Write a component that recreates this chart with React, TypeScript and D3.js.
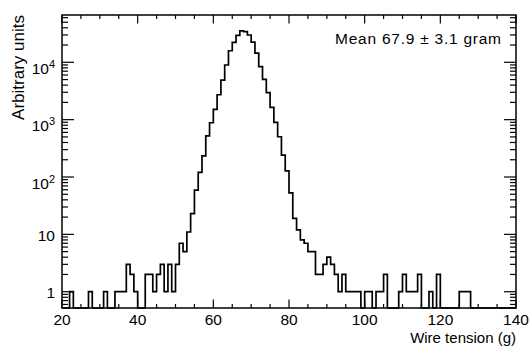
import React from 'react';
import * as d3 from 'd3';

const binStart = 20;
const binWidth = 1;
// counts per 1 g bin, from 20 g to 140 g
const counts = [
  0, 0, 1, 0, 0, 0, 0, 1, 0, 0,
  0, 1, 0, 0, 1, 1, 1, 3, 2, 1,
  0, 0, 2, 2, 1, 2, 3, 1, 3, 1,
  3, 7, 5, 11, 23, 59, 120, 234, 522, 883,
  1510, 2720, 4900, 8970, 15900, 22300, 29400, 35400, 34200, 29900,
  22500, 14400, 8380, 5050, 2950, 1640, 897, 503, 241, 128,
  53, 19, 12, 8, 7, 5, 5, 2, 2, 3,
  4, 3, 2, 1, 2, 1, 1, 1, 1, 0,
  1, 1, 0, 1, 1, 2, 0, 0, 0, 1,
  2, 1, 1, 1, 2, 0, 0, 1, 0, 2,
  0, 0, 0, 0, 0, 1, 1, 1, 0, 0,
  0, 0, 0, 0, 0, 0, 0, 0, 0, 0,
];
const xMajorTicks = [20, 40, 60, 80, 100, 120, 140];
const yMajorTicks = [1, 10, 100, 1000, 10000];
const yTickLabels = [
  { base: '1', exp: '' },
  { base: '10', exp: '' },
  { base: '10', exp: '2' },
  { base: '10', exp: '3' },
  { base: '10', exp: '4' },
];
const xTitle = 'Wire tension (g)';
const yTitle = 'Arbitrary units';
const meanText = 'Mean 67.9 ± 3.1 gram';

export default function App() {
  const W = 531, H = 347;
  const L = 62, R = 516, T = 15, B = 308;
  const x = d3.scaleLinear().domain([20, 140]).range([L, R]);
  const y = d3.scaleLog().domain([0.52, 66800]).range([B, T]);
  const font = "'Liberation Sans', Arial, Helvetica, sans-serif";

  const pts: [number, number][] = [[x(binStart), B]];
  counts.forEach((c, i) => {
    const yy = c > 0 ? y(c) : B;
    pts.push([x(binStart + i * binWidth), yy]);
    pts.push([x(binStart + (i + 1) * binWidth), yy]);
  });
  pts.push([x(binStart + counts.length * binWidth), B]);
  const path = d3.line()(pts) || '';

  const xMinor = d3.range(20, 141, 5).filter(v => !xMajorTicks.includes(v));
  const yMinor: number[] = [];
  for (let d = -1; d <= 4; d++) {
    for (let m = 2; m <= 9; m++) {
      const v = m * Math.pow(10, d);
      if (v >= 0.52 && v <= 66800) yMinor.push(v);
    }
  }

  return (
    <div style={{ position: 'fixed', left: 0, top: 0 }}>
      <svg width={W} height={H} style={{ display: 'block', background: '#fff' }}>
        <rect x={0} y={0} width={W} height={H} fill="#fff" />
        <g stroke="#000" strokeWidth={1.2}>
          {xMajorTicks.map(v => (
            <g key={'xm' + v}>
              <line x1={x(v)} x2={x(v)} y1={B} y2={B - 8.5} />
              <line x1={x(v)} x2={x(v)} y1={T} y2={T + 8.5} />
            </g>
          ))}
          {xMinor.map(v => (
            <g key={'xn' + v}>
              <line x1={x(v)} x2={x(v)} y1={B} y2={B - 4} />
              <line x1={x(v)} x2={x(v)} y1={T} y2={T + 4} />
            </g>
          ))}
          {yMajorTicks.map(v => (
            <g key={'ym' + v}>
              <line x1={L} x2={L + 12} y1={y(v)} y2={y(v)} />
              <line x1={R} x2={R - 12} y1={y(v)} y2={y(v)} />
            </g>
          ))}
          {yMinor.map(v => (
            <g key={'yn' + v}>
              <line x1={L} x2={L + 6} y1={y(v)} y2={y(v)} />
              <line x1={R} x2={R - 6} y1={y(v)} y2={y(v)} />
            </g>
          ))}
        </g>
        <path d={path} fill="none" stroke="#000" strokeWidth={1.7} strokeLinejoin="miter" />
        <rect x={L} y={T} width={R - L} height={B - T} fill="none" stroke="#000" strokeWidth={1.5} />
        <g fontFamily={font} fill="#000">
          {xMajorTicks.map(v => (
            <text key={'xl' + v} x={x(v)} y={325} fontSize={15.5} textAnchor="middle">{v}</text>
          ))}
          {yMajorTicks.map((v, i) => {
            const lab = yTickLabels[i];
            if (!lab.exp) {
              return (
                <text key={'yl' + v} x={55} y={y(v) + 6.5} fontSize={15.5} textAnchor="end">{lab.base}</text>
              );
            }
            return (
              <text key={'yl' + v} x={55} y={y(v) + 11.5} fontSize={15.5} textAnchor="end">
                <tspan>{lab.base}</tspan>
                <tspan dy={-6} fontSize={11}>{lab.exp}</tspan>
              </text>
            );
          })}
          <text x={R} y={343} fontSize={15} textAnchor="end">{xTitle}</text>
          <text transform="rotate(-90)" x={-T} y={23.5} fontSize={17} textAnchor="end">{yTitle}</text>
          <text x={335} y={44} fontSize={15.5} textLength={166} lengthAdjust="spacing">{meanText}</text>
        </g>
      </svg>
    </div>
  );
}
